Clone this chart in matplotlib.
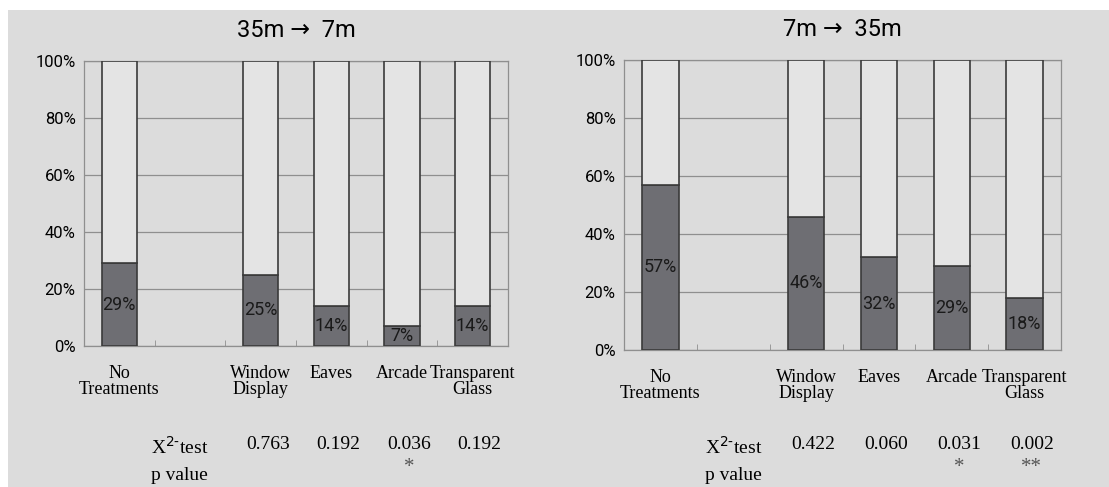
import matplotlib.pyplot as plt
import matplotlib.transforms as mtransforms
from matplotlib.patches import Rectangle

categories = ['No\nTreatments', '', 'Window\nDisplay', 'Eaves', 'Arcade', 'Transparent\nGlass']

# share (%) per treatment, None = empty slot
near_values = [29, None, 25, 14, 7, 14]     # 35m -> 7m
far_values = [57, None, 46, 32, 29, 18]     # 7m -> 35m

near_p = ['', '', '0.763', '0.192', '0.036', '0.192']
near_stars = ['', '', '', '', '*', '']
far_p = ['', '', '0.422', '0.060', '0.031', '0.002']
far_stars = ['', '', '', '', '*', '**']

titles = ['35m \u2192  7m', '7m \u2192  35m']

bg = '#dcdcdc'
dark = '#6e6e73'
light = '#e4e4e4'
edge = '#3a3a3a'
linec = '#8f8f8f'
narrow = ['Roboto', 'DejaVu Sans']
serif = ['Liberation Serif', 'DejaVu Serif']

fig = plt.figure(figsize=(11.09, 4.87), dpi=100, facecolor=bg)
# white margins on top and left of the scanned picture
fig.patches.append(Rectangle((0, 1 - 10 / 487), 1, 10 / 487, transform=fig.transFigure,
                             facecolor='white', edgecolor='none', zorder=0))
fig.patches.append(Rectangle((0, 0), 8 / 1109, 1, transform=fig.transFigure,
                             facecolor='white', edgecolor='none', zorder=0))

ax1 = fig.add_axes([0.0757, 0.2895, 0.3823, 0.5852])
ax2 = fig.add_axes([0.5627, 0.2813, 0.3940, 0.5955])

panels = [(ax1, near_values, near_p, near_stars, titles[0], 0.85),
          (ax2, far_values, far_p, far_stars, titles[1], 1.0)]

for ax, vals, pv, stars, title, xtest in panels:
    ax.set_facecolor(bg)
    x = [i for i, v in enumerate(vals) if v is not None]
    v = [vals[i] for i in x]
    ax.bar(x, v, width=0.5, color=dark, edgecolor=edge, linewidth=1.2, zorder=3)
    ax.bar(x, [100 - a for a in v], bottom=v, width=0.5, color=light,
           edgecolor=edge, linewidth=1.2, zorder=3)
    for xi, vi in zip(x, v):
        ax.text(xi, vi / 2, f'{vi}%', ha='center', va='center', fontsize=13,
                family=narrow, color='#1a1a1a', zorder=4)

    ax.set_xlim(-0.5, 5.5)
    ax.set_ylim(0, 100)
    ax.set_yticks([0, 20, 40, 60, 80, 100])
    ax.set_yticklabels([f'{t}%' for t in range(0, 101, 20)], family=narrow, fontsize=12)
    ax.tick_params(axis='y', length=0, pad=6)
    ax.set_xticks(range(len(categories)))
    ax.set_xticklabels(categories, family=serif, fontsize=13, linespacing=0.85)
    ax.tick_params(axis='x', length=0, pad=14)
    ax.set_xticks([i + 0.5 for i in range(5)], minor=True)
    ax.tick_params(axis='x', which='minor', direction='in', length=4, color=linec)
    ax.grid(axis='y', color=linec, linewidth=0.9, zorder=1)
    for s in ax.spines.values():
        s.set_color(linec)
        s.set_linewidth(0.9)
    ax.set_title(title, family=narrow, fontsize=17, pad=17)

    tr = mtransforms.blended_transform_factory(ax.transData, fig.transFigure)
    ax.text(xtest, 0.082, 'X$^{2\u2010}$test', transform=tr, ha='center', va='center',
            family=serif, fontsize=14)
    ax.text(xtest, 0.024, 'p value', transform=tr, ha='center', va='center',
            family=serif, fontsize=14)
    for i, (p, s) in enumerate(zip(pv, stars)):
        if p:
            ax.text(i + 0.1, 0.088, p, transform=tr, ha='center', va='center',
                    family=serif, fontsize=14)
        if s:
            ax.text(i + 0.1, 0.040, s, transform=tr, ha='center', va='center',
                    family=serif, fontsize=15, color='#555555')

fig.savefig('out.png', dpi=100, facecolor=bg)
